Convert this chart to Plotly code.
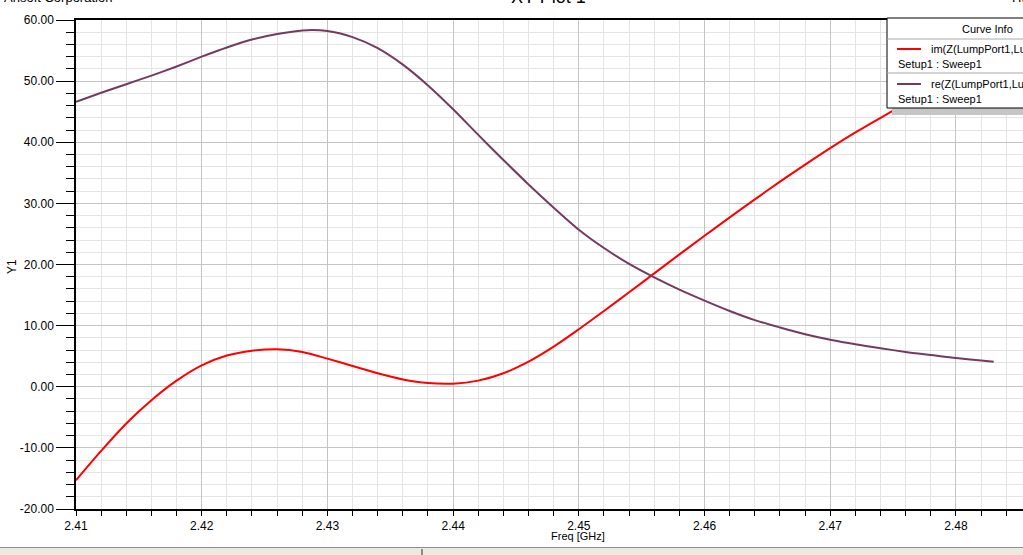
import plotly.graph_objects as go

# ---------------- data ----------------
freq_ghz = [2.410, 2.412, 2.414, 2.416, 2.418, 2.420, 2.422, 2.424, 2.426, 2.428,
            2.430, 2.432, 2.434, 2.436, 2.438, 2.440, 2.442, 2.444, 2.446, 2.448,
            2.450, 2.452, 2.454, 2.456, 2.458, 2.460, 2.462, 2.464, 2.466, 2.468,
            2.470, 2.472, 2.474, 2.476, 2.478, 2.480, 2.482, 2.483]

im_z = [-15.3, -10.5, -6.0, -2.2, 1.0, 3.5, 5.1, 5.9, 6.15, 5.7,
        4.6, 3.4, 2.2, 1.2, 0.6, 0.5, 1.0, 2.2, 4.1, 6.55,
        9.4, 12.4, 15.45, 18.55, 21.65, 24.7, 27.7, 30.65, 33.55, 36.35,
        39.05, 41.6, 44.0, 46.3, 48.5, 50.6, 52.6, 53.6]

re_z = [46.6, 48.1, 49.5, 50.9, 52.4, 54.0, 55.5, 56.8, 57.7, 58.3,
        58.2, 57.2, 55.4, 52.7, 49.3, 45.4, 41.2, 37.1, 33.1, 29.3,
        25.7, 22.7, 20.1, 17.9, 15.9, 14.1, 12.4, 10.9, 9.7, 8.6,
        7.7, 6.95, 6.3, 5.7, 5.2, 4.7, 4.3, 4.1]

x_tick_vals = [2.41, 2.42, 2.43, 2.44, 2.45, 2.46, 2.47, 2.48]
x_tick_text = ["2.41", "2.42", "2.43", "2.44", "2.45", "2.46", "2.47", "2.48"]
y_tick_vals = [-20, -10, 0, 10, 20, 30, 40, 50, 60]
y_tick_text = ["-20.00", "-10.00", "0.00", "10.00", "20.00", "30.00", "40.00", "50.00", "60.00"]

series_names = ["im(Z(LumpPort1,LumpPort1))", "re(Z(LumpPort1,LumpPort1))"]
setup_label = "Setup1 : Sweep1"

# ---------------- layout helpers ----------------
W_FIG, H_FIG = 1023, 555
L, R, T, B = 76, 1023, 20, 509
PW, PH = R - L, B - T


def px(x):
    return (x - L) / PW


def py(y):
    return (B - y) / PH


RED = "#ff0000"
PURPLE = "#743a60"
FONT = "Liberation Sans, Arial, sans-serif"

fig = go.Figure()
fig.add_trace(go.Scatter(x=freq_ghz, y=im_z, mode="lines", line=dict(color=RED, width=2),
                         name=series_names[0], line_shape="spline", line_smoothing=0.8))
fig.add_trace(go.Scatter(x=freq_ghz, y=re_z, mode="lines", line=dict(color=PURPLE, width=2),
                         name=series_names[1], line_shape="spline", line_smoothing=0.8))

fig.update_layout(
    width=W_FIG, height=H_FIG,
    margin=dict(l=L, r=W_FIG - R, t=T, b=H_FIG - B, pad=0),
    paper_bgcolor="white", plot_bgcolor="white",
    showlegend=False,
    font=dict(family=FONT, size=12, color="black"),
)

fig.update_xaxes(
    range=[2.41, 2.41 + PW / 12571.0],
    tickvals=x_tick_vals, ticktext=x_tick_text,
    showgrid=True, gridcolor="#c4c4c4", gridwidth=1,
    showline=True, linecolor="black", linewidth=1.5, mirror=True,
    ticks="outside", ticklen=5, tickcolor="black",
    zeroline=False,
    tickfont=dict(size=12, family=FONT),
    minor=dict(dtick=0.002, tick0=2.41, showgrid=True, gridcolor="#e4e4e4",
               ticks="outside", ticklen=5, tickcolor="black"),
)
fig.update_yaxes(
    range=[-20, 60],
    tickvals=y_tick_vals, ticktext=y_tick_text,
    showgrid=True, gridcolor="#c4c4c4", gridwidth=1,
    showline=True, linecolor="black", linewidth=1.5,
    ticks="outside", ticklen=18, tickcolor="black",
    zeroline=False,
    tickfont=dict(size=12, family=FONT),
    minor=dict(dtick=2, tick0=-20, showgrid=True, gridcolor="#e4e4e4",
               ticks="outside", ticklen=8, tickcolor="black"),
)

shapes = []
annos = []

# legend ("Curve Info") box
shapes.append(dict(type="rect", xref="paper", yref="paper",
                   x0=px(892), x1=px(1060), y0=py(115), y1=py(108),
                   fillcolor="#c6c6c6", line=dict(width=0), layer="above"))
shapes.append(dict(type="rect", xref="paper", yref="paper",
                   x0=px(887), x1=px(1060), y0=py(108), y1=py(18),
                   fillcolor="white", line=dict(color="black", width=1), layer="above"))
for yy in (39, 73):
    shapes.append(dict(type="line", xref="paper", yref="paper",
                       x0=px(887), x1=px(1060), y0=py(yy), y1=py(yy),
                       line=dict(color="#a8a8a8", width=1), layer="above"))
for yy, col in ((49, RED), (84, PURPLE)):
    shapes.append(dict(type="line", xref="paper", yref="paper",
                       x0=px(897), x1=px(921), y0=py(yy), y1=py(yy),
                       line=dict(color=col, width=2), layer="above"))

LEG_FONT = dict(family=FONT, size=11, color="black")
annos.append(dict(text="Curve Info", xref="paper", yref="paper", x=px(987), y=py(29),
                  xanchor="center", yanchor="middle", showarrow=False, font=LEG_FONT))
annos.append(dict(text=series_names[0], xref="paper", yref="paper", x=px(929), y=py(49),
                  xanchor="left", yanchor="middle", showarrow=False, font=LEG_FONT))
annos.append(dict(text=setup_label, xref="paper", yref="paper", x=px(896), y=py(64),
                  xanchor="left", yanchor="middle", showarrow=False, font=LEG_FONT))
annos.append(dict(text=series_names[1], xref="paper", yref="paper", x=px(929), y=py(84),
                  xanchor="left", yanchor="middle", showarrow=False, font=LEG_FONT))
annos.append(dict(text=setup_label, xref="paper", yref="paper", x=px(896), y=py(99),
                  xanchor="left", yanchor="middle", showarrow=False, font=LEG_FONT))

# axis titles
annos.append(dict(text="Freq [GHz]", xref="paper", yref="paper", x=px(578), y=py(536),
                  xanchor="center", yanchor="middle", showarrow=False,
                  font=dict(family=FONT, size=11, color="black")))
annos.append(dict(text="Y1", xref="paper", yref="paper", x=px(12), y=py(267),
                  xanchor="center", yanchor="middle", showarrow=False, textangle=-90,
                  font=dict(family=FONT, size=12, color="black")))

# clipped header texts at the very top
annos.append(dict(text="XY Plot 1", xref="paper", yref="paper", x=px(548), y=py(9),
                  xanchor="center", yanchor="bottom", showarrow=False,
                  font=dict(family=FONT, size=18, color="black")))
annos.append(dict(text="Ansoft Corporation", xref="paper", yref="paper", x=px(2), y=py(7),
                  xanchor="left", yanchor="bottom", showarrow=False,
                  font=dict(family=FONT, size=13, color="black")))
annos.append(dict(text="HFSSDesign1", xref="paper", yref="paper", x=px(1010), y=py(7),
                  xanchor="left", yanchor="bottom", showarrow=False,
                  font=dict(family=FONT, size=13, color="black")))

# window status-bar strip at the bottom
shapes.append(dict(type="rect", xref="paper", yref="paper",
                   x0=px(-5), x1=px(1030), y0=py(560), y1=py(547),
                   fillcolor="#ece9e1", line=dict(width=0), layer="above"))
shapes.append(dict(type="line", xref="paper", yref="paper",
                   x0=px(-5), x1=px(1030), y0=py(547.5), y1=py(547.5),
                   line=dict(color="#8c8c8c", width=1), layer="above"))
shapes.append(dict(type="line", xref="paper", yref="paper",
                   x0=px(422), x1=px(422), y0=py(549), y1=py(556),
                   line=dict(color="#303030", width=1), layer="above"))

fig.update_layout(shapes=shapes, annotations=annos)

fig.write_html(
    "out.html",
    config={"displayModeBar": False},
    post_script="document.body.style.margin='0';document.body.style.overflow='hidden';",
)
